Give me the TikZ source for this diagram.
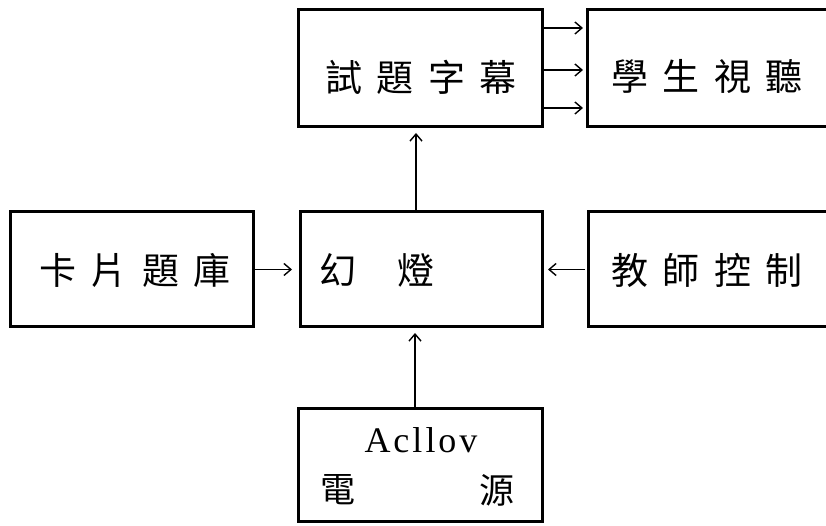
\documentclass[tikz,border=0pt]{standalone}
\usepackage{fontspec}
\newfontfamily\cjk{Noto Sans CJK TC}
\newfontfamily\latn{Liberation Serif}
\usetikzlibrary{arrows.meta}
\newcommand{\gp}{\hspace{14.5pt}}
\begin{document}
\begin{tikzpicture}[x=1pt,y=1pt,
  blk/.style={draw, line width=3pt, rectangle, inner sep=0pt, outer sep=0pt},
  lbl/.style={inner sep=0pt, font=\cjk\fontsize{37}{40}\selectfont},
  arr/.style={line width=1.4pt, -{Straight Barb[length=7pt,width=12pt,line width=1.4pt]}}
]
\useasboundingbox (0,0) rectangle (826,526);
\clip (0,0) rectangle (826,526);
\fill[white] (0,0) rectangle (826,526);
% boxes
\node[blk, minimum width=244pt, minimum height=117pt] (A) at (420,457.5) {};
\node[blk, minimum width=253pt, minimum height=117pt] (B) at (713.5,457.5) {};
\node[blk, minimum width=243pt, minimum height=115pt] (C) at (131.5,256.5) {};
\node[blk, minimum width=242pt, minimum height=115pt] (D) at (421,256.5) {};
\node[blk, minimum width=252pt, minimum height=115pt] (E) at (714,256.5) {};
\node[blk, minimum width=244pt, minimum height=113pt] (F) at (420,60.5) {};
% labels
\node[lbl] (tA) at (421,449) {試\gp 題\gp 字\gp 幕};
\node[lbl] (tB) at (707,449) {學\gp 生\gp 視\gp 聽};
\node[lbl] (tC) at (135,256) {卡\gp 片\gp 題\gp 庫};
\node[lbl, anchor=west] (tD) at (319,256) {幻\hspace{41pt}燈};
\node[lbl] (tE) at (707,256) {教\gp 師\gp 控\gp 制};
\node[inner sep=0pt, font=\latn\fontsize{36}{44}\selectfont] (tF) at (421,86) {A\kern3pt c\kern3pt l\kern3pt l\kern3pt o\kern3pt v};
\node[lbl, font=\cjk\fontsize{35}{40}\selectfont] (tF1) at (338,36) {電};
\node[lbl, font=\cjk\fontsize{35}{40}\selectfont] (tF2) at (497,36) {源};
% connectors
\draw[arr, shorten <=2pt, shorten >=4pt] ([yshift=40.5pt]A.east) -- ([yshift=40.5pt]B.west);
\draw[arr, shorten <=2pt, shorten >=4pt] ([yshift=-1.5pt]A.east) -- ([yshift=-1.5pt]B.west);
\draw[arr, shorten <=2pt, shorten >=4pt] ([yshift=-39.5pt]A.east) -- ([yshift=-39.5pt]B.west);
\draw[arr, shorten >=6pt] ([xshift=-5pt]D.north) -- ([xshift=-4pt]A.south);
\draw[arr, shorten <=2pt, shorten >=8pt] (C.east) -- (D.west);
\draw[arr, shorten <=3pt, shorten >=6pt] (E.west) -- (D.east);
\draw[arr, shorten >=6pt] ([xshift=-5pt]F.north) -- ([xshift=-6pt]D.south);
\end{tikzpicture}
\end{document}
